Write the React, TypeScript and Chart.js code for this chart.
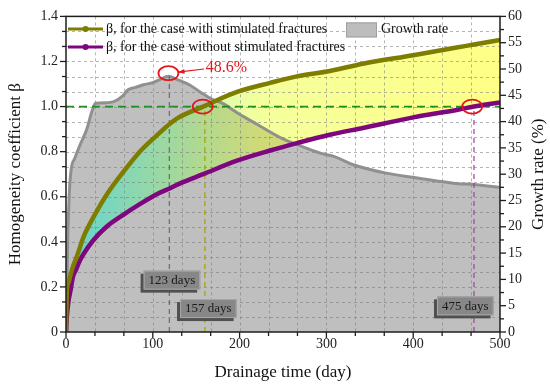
import React, { useEffect, useRef } from "react";
import { Chart, registerables } from "chart.js";

Chart.register(...registerables);

const FONT = "'Liberation Serif', 'Times New Roman', serif";

// Growth rate (%) vs drainage time (day) — right axis
const growthDays = [0, 1, 2, 3, 4, 6, 10, 16, 24, 30, 34, 45, 55, 66, 71, 80, 89, 100, 108, 118, 128, 143, 155, 168, 180, 200, 220, 250, 273, 293, 310, 331, 369, 408, 446, 473, 500];
const growthRate = [0, 8, 18, 23, 27, 31, 33, 35.5, 38.6, 42, 43.5, 43.6, 43.8, 45, 46, 46.5, 47, 47.4, 48, 48.6, 48, 46.9, 45.6, 44.3, 43.5, 41.4, 39.5, 36.7, 35.2, 34, 33.3, 31.8, 30.2, 29.2, 28.3, 28, 27.5];

// Homogeneity coefficient beta — left axis
const betaDays = [0, 1, 3, 5, 8, 12, 16, 20, 31, 47, 66, 85, 104, 120, 129, 158, 197, 235, 266, 304, 342, 400, 450, 470, 500];
const betaWithFractures = [0, 0.18, 0.22, 0.25, 0.29, 0.33, 0.375, 0.42, 0.505, 0.61, 0.71, 0.8, 0.87, 0.925, 0.95, 1.0, 1.065, 1.105, 1.134, 1.158, 1.19, 1.228, 1.262, 1.275, 1.295];
const betaWithoutFractures = [0, 0.07, 0.14, 0.18, 0.244, 0.28, 0.317, 0.345, 0.405, 0.468, 0.52, 0.567, 0.61, 0.638, 0.655, 0.7, 0.76, 0.805, 0.838, 0.875, 0.905, 0.952, 0.985, 1.0, 1.018];

// Tick labels
const xTickLabels = ["0", "100", "200", "300", "400", "500"];
const yTickLabels = ["0", "0.2", "0.4", "0.6", "0.8", "1.0", "1.2", "1.4"];
const y1TickLabels = ["0", "5", "10", "15", "20", "25", "30", "35", "40", "45", "50", "55", "60"];

// Annotations
const thresholdBeta = 1.0;
const peakDay = 119;
const peakRate = 48.6;
const fracCrossDay = 160;
const noFracCrossDay = 470;
const dayBoxTexts = ["123 days", "157 days", "475 days"];
const dayBoxDays = [122, 164, 460];
const dayBoxBetas = [0.23, 0.104, 0.116];
const circleDays = [118, 157.5, 468];
const circleValues = [49.2, 1.0, 1.0];
const circleAxes = ["y1", "y", "y"];
const peakText = "48.6%";
const peakTextPos = { x: 161, y: 50.2 };
const arrowFrom = { x: 159, y: 50.0 };
const arrowTo = { x: 129, y: 49.4 };

const legendTexts = [
  "β, for the case with stimulated fractures",
  "β, for the case without stimulated fractures",
  "Growth rate",
];

const OLIVE = "#7d7d00";
const PURPLE = "#7e067f";

function withMinor(labels: string[], parts: number): number[] {
  const majors = labels.map(Number);
  const out: number[] = [];
  for (let i = 0; i < majors.length - 1; i++) {
    for (let k = 0; k < parts; k++) out.push(majors[i] + ((majors[i + 1] - majors[i]) * k) / parts);
  }
  out.push(majors[majors.length - 1]);
  return out;
}

const xTickVals = withMinor(xTickLabels, 3);
const yTickVals = withMinor(yTickLabels, 3);
const y1TickVals = withMinor(y1TickLabels, 2);

const pts = (xs: number[], ys: number[]) => xs.map((x, i) => ({ x, y: ys[i] }));

export default function App() {
  const canvasRef = useRef<HTMLCanvasElement | null>(null);

  useEffect(() => {
    const canvas = canvasRef.current;
    if (!canvas) return;

    const overlay = {
      id: "overlay",
      beforeDatasetsDraw(chart: any) {
        const { ctx, chartArea: a, scales } = chart;
        ctx.save();
        ctx.strokeStyle = "rgba(120,120,120,0.55)";
        ctx.lineWidth = 1;
        ctx.setLineDash([3, 3]);
        xTickVals.forEach((v) => {
          if (v <= 0 || v >= 500) return;
          const px = Math.round(scales.x.getPixelForValue(v)) + 0.5;
          ctx.beginPath();
          ctx.moveTo(px, a.top);
          ctx.lineTo(px, a.bottom);
          ctx.stroke();
        });
        yTickVals.forEach((v, i) => {
          if (i === 0 || i === yTickVals.length - 1) return;
          const py = Math.round(scales.y.getPixelForValue(v)) + 0.5;
          ctx.beginPath();
          ctx.moveTo(a.left, py);
          ctx.lineTo(a.right, py);
          ctx.stroke();
        });
        ctx.restore();
      },
      afterDatasetsDraw(chart: any) {
        const { ctx, chartArea: a, scales } = chart;
        const X = (v: number) => scales.x.getPixelForValue(v);
        const Y = (v: number) => scales.y.getPixelForValue(v);
        const Y1 = (v: number) => scales.y1.getPixelForValue(v);
        ctx.save();

        // frame
        ctx.strokeStyle = "#1e1e1e";
        ctx.lineWidth = 1.5;
        ctx.setLineDash([]);
        ctx.strokeRect(a.left, a.top, a.right - a.left, a.bottom - a.top);

        // tick marks
        ctx.lineWidth = 1.3;
        xTickVals.forEach((v, i) => {
          const px = X(v);
          const len = i % 3 === 0 ? 6 : 4;
          ctx.beginPath();
          ctx.moveTo(px, a.bottom);
          ctx.lineTo(px, a.bottom + len);
          ctx.stroke();
        });
        yTickVals.forEach((v, i) => {
          const py = Y(v);
          const len = i % 3 === 0 ? 6 : 4;
          ctx.beginPath();
          ctx.moveTo(a.left, py);
          ctx.lineTo(a.left - len, py);
          ctx.stroke();
        });
        y1TickVals.forEach((v, i) => {
          const py = Y1(v);
          const len = i % 2 === 0 ? 6 : 4;
          ctx.beginPath();
          ctx.moveTo(a.right, py);
          ctx.lineTo(a.right + len, py);
          ctx.stroke();
        });

        // red circles
        ctx.strokeStyle = "#e3161b";
        ctx.lineWidth = 1.8;
        circleDays.forEach((d, i) => {
          const cx = X(d);
          const cy = circleAxes[i] === "y1" ? Y1(circleValues[i]) : Y(circleValues[i]);
          ctx.beginPath();
          ctx.ellipse(cx, cy, 10, 7, 0, 0, Math.PI * 2);
          ctx.stroke();
        });

        // arrow
        const ax0 = X(arrowFrom.x), ay0 = Y1(arrowFrom.y);
        const ax1 = X(arrowTo.x), ay1 = Y1(arrowTo.y);
        ctx.lineWidth = 1.2;
        ctx.beginPath();
        ctx.moveTo(ax0, ay0);
        ctx.lineTo(ax1, ay1);
        ctx.stroke();
        const ang = Math.atan2(ay1 - ay0, ax1 - ax0);
        ctx.fillStyle = "#e3161b";
        ctx.beginPath();
        ctx.moveTo(ax1, ay1);
        ctx.lineTo(ax1 - 7 * Math.cos(ang - 0.35), ay1 - 7 * Math.sin(ang - 0.35));
        ctx.lineTo(ax1 - 7 * Math.cos(ang + 0.35), ay1 - 7 * Math.sin(ang + 0.35));
        ctx.closePath();
        ctx.fill();

        ctx.font = `16px ${FONT}`;
        ctx.textBaseline = "middle";
        ctx.textAlign = "left";
        ctx.fillText(peakText, X(peakTextPos.x), Y1(peakTextPos.y));

        // day boxes
        ctx.font = `13px ${FONT}`;
        dayBoxTexts.forEach((t, i) => {
          const cx = X(dayBoxDays[i]);
          const cy = Y(dayBoxBetas[i]);
          const w = ctx.measureText(t).width + 10;
          const h = 19;
          const x0 = cx - w / 2, y0 = cy - h / 2;
          ctx.fillStyle = "#505050";
          ctx.fillRect(x0 - 3, y0 + 3, w, h);
          ctx.fillStyle = "#878787";
          ctx.fillRect(x0, y0, w, h);
          ctx.strokeStyle = "#a8a8a8";
          ctx.lineWidth = 1;
          ctx.strokeRect(x0 + 0.5, y0 + 0.5, w - 1, h - 1);
          ctx.fillStyle = "#1a1a1a";
          ctx.textAlign = "center";
          ctx.fillText(t, cx, cy + 0.5);
        });

        // legend
        ctx.textAlign = "left";
        ctx.font = `14px ${FONT}`;
        const rows = [
          { y: a.top + 12.5, color: OLIVE },
          { y: a.top + 30.5, color: PURPLE },
        ];
        rows.forEach((r, i) => {
          ctx.strokeStyle = r.color;
          ctx.lineWidth = 3;
          ctx.beginPath();
          ctx.moveTo(a.left + 2, r.y);
          ctx.lineTo(a.left + 37, r.y);
          ctx.stroke();
          ctx.fillStyle = r.color;
          ctx.beginPath();
          ctx.arc(a.left + 19.5, r.y, 3, 0, Math.PI * 2);
          ctx.fill();
          ctx.fillStyle = "#111";
          ctx.fillText(legendTexts[i], a.left + 40, r.y);
        });
        ctx.fillStyle = "#bdbdbd";
        ctx.fillRect(346, a.top + 6, 31, 15);
        ctx.strokeStyle = "#a0a0a0";
        ctx.lineWidth = 1;
        ctx.strokeRect(346.5, a.top + 6.5, 30, 14);
        ctx.fillStyle = "#111";
        ctx.fillText(legendTexts[2], 381, a.top + 13);

        // axis titles
        ctx.font = `17px ${FONT}`;
        ctx.fillStyle = "#111";
        ctx.textAlign = "center";
        ctx.fillText("Drainage time (day)", (a.left + a.right) / 2, 373);
        const midY = (a.top + a.bottom) / 2;
        ctx.save();
        ctx.translate(16, midY);
        ctx.rotate(-Math.PI / 2);
        ctx.fillText("Homogeneity coefficient β", 0, 0);
        ctx.restore();
        ctx.save();
        ctx.translate(539, midY);
        ctx.rotate(-Math.PI / 2);
        ctx.fillText("Growth rate (%)", 0, 0);
        ctx.restore();

        ctx.restore();
      },
    };

    const chart = new Chart(canvas, {
      type: "line",
      data: {
        datasets: [
          {
            label: "Growth rate",
            data: pts(growthDays, growthRate),
            yAxisID: "y1",
            borderColor: "rgba(140,140,140,0.95)",
            borderWidth: 3,
            backgroundColor: "#bfbfbf",
            fill: "origin",
            pointRadius: 0,
            cubicInterpolationMode: "monotone",
            order: 10,
          },
          {
            label: legendTexts[0],
            data: pts(betaDays, betaWithFractures),
            yAxisID: "y",
            borderColor: OLIVE,
            borderWidth: 4.5,
            pointRadius: 0,
            fill: { target: 2 },
            backgroundColor: (c: any) => {
              const ch = c.chart;
              const area = ch.chartArea;
              if (!area) return "rgba(200,230,100,0.4)";
              const g = ch.ctx.createLinearGradient(area.left, 0, area.right, 0);
              g.addColorStop(0, "rgba(0,235,235,0.5)");
              g.addColorStop(0.45, "rgba(230,255,20,0.42)");
              g.addColorStop(1, "rgba(255,255,0,0.48)");
              return g;
            },
            cubicInterpolationMode: "monotone",
            order: 1,
          },
          {
            label: legendTexts[1],
            data: pts(betaDays, betaWithoutFractures),
            yAxisID: "y",
            borderColor: PURPLE,
            borderWidth: 4.5,
            pointRadius: 0,
            fill: false,
            cubicInterpolationMode: "monotone",
            order: 2,
          },
          {
            label: "threshold",
            data: [{ x: 0, y: thresholdBeta }, { x: 500, y: thresholdBeta }],
            yAxisID: "y",
            borderColor: "#1f8f1f",
            borderWidth: 1.8,
            borderDash: [8, 5],
            pointRadius: 0,
            fill: false,
            order: 5,
          },
          {
            label: "peak",
            data: [{ x: peakDay, y: 0 }, { x: peakDay, y: peakRate }],
            yAxisID: "y1",
            borderColor: "#5a5a5a",
            borderWidth: 1,
            borderDash: [5, 4],
            pointRadius: 0,
            fill: false,
            order: 6,
          },
          {
            label: "frac cross",
            data: [{ x: fracCrossDay, y: 0 }, { x: fracCrossDay, y: thresholdBeta }],
            yAxisID: "y",
            borderColor: "#a3a300",
            borderWidth: 1.2,
            borderDash: [5, 4],
            pointRadius: 0,
            fill: false,
            order: 6,
          },
          {
            label: "nofrac cross",
            data: [{ x: noFracCrossDay, y: 0 }, { x: noFracCrossDay, y: thresholdBeta }],
            yAxisID: "y",
            borderColor: "#a33aa3",
            borderWidth: 1.2,
            borderDash: [5, 4],
            pointRadius: 0,
            fill: false,
            order: 6,
          },
        ],
      },
      options: {
        responsive: false,
        animation: false,
        layout: { padding: { top: 12, left: 0, right: 0, bottom: 0 } },
        plugins: {
          legend: { display: false },
          tooltip: { enabled: false },
          filler: { drawTime: "beforeDatasetsDraw" },
        },
        scales: {
          x: {
            type: "linear",
            min: 0,
            max: 500,
            afterBuildTicks: (s: any) => {
              s.ticks = xTickVals.map((v) => ({ value: v }));
            },
            afterFit: (s: any) => {
              s.height = 57;
            },
            ticks: {
              autoSkip: false,
              maxRotation: 0,
              padding: 4,
              color: "#222",
              font: { family: FONT, size: 14 },
              callback: (_v: any, i: number) => (i % 3 === 0 ? xTickLabels[i / 3] : ""),
            },
            grid: { display: false, drawTicks: false },
            border: { display: false },
          },
          y: {
            type: "linear",
            position: "left",
            min: 0,
            max: 1.4,
            afterBuildTicks: (s: any) => {
              s.ticks = yTickVals.map((v) => ({ value: v }));
            },
            afterFit: (s: any) => {
              s.width = 66;
            },
            ticks: {
              autoSkip: false,
              padding: 8,
              color: "#222",
              font: { family: FONT, size: 14 },
              callback: (_v: any, i: number) => (i % 3 === 0 ? yTickLabels[i / 3] : ""),
            },
            grid: { display: false, drawTicks: false },
            border: { display: false },
          },
          y1: {
            type: "linear",
            position: "right",
            min: 0,
            max: 60,
            afterBuildTicks: (s: any) => {
              s.ticks = y1TickVals.map((v) => ({ value: v }));
            },
            afterFit: (s: any) => {
              s.width = 50;
            },
            ticks: {
              autoSkip: false,
              padding: 8,
              color: "#222",
              font: { family: FONT, size: 14 },
              callback: (_v: any, i: number) => (i % 2 === 0 ? y1TickLabels[i / 2] : ""),
            },
            grid: { display: false, drawTicks: false },
            border: { display: false },
          },
        },
      },
      plugins: [overlay],
    } as any);

    return () => chart.destroy();
  }, []);

  return (
    <div style={{ position: "absolute", left: 0, top: 0, width: 550, height: 389, background: "#fff" }}>
      <canvas ref={canvasRef} width={550} height={389} style={{ width: 550, height: 389, display: "block" }} />
    </div>
  );
}
